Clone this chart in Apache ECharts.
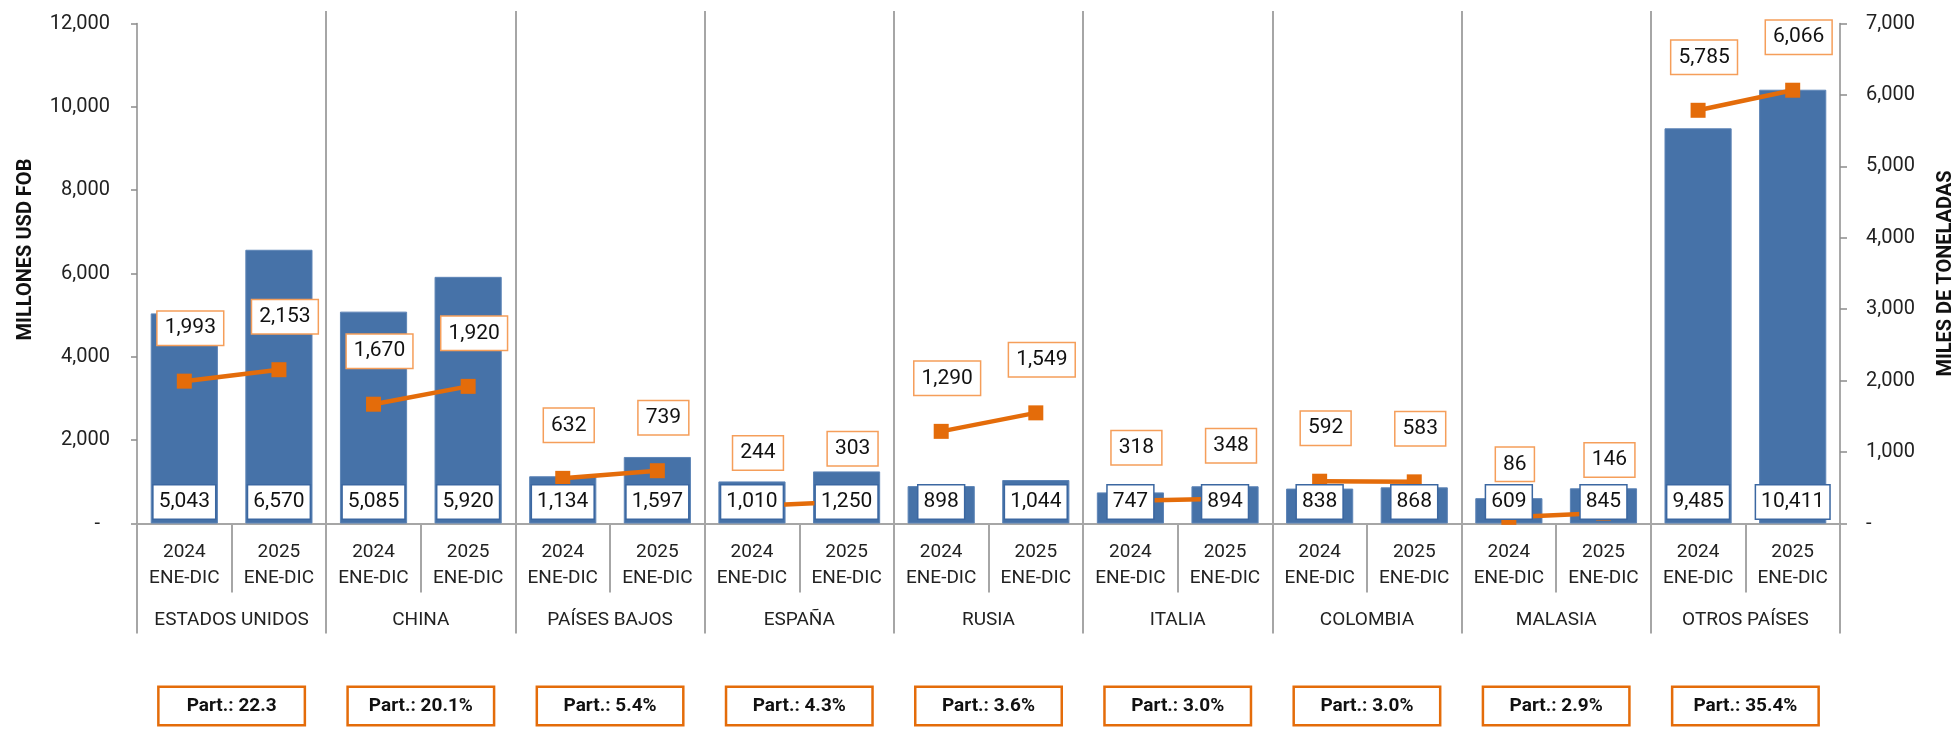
<!DOCTYPE html>
<html>
<head>
<meta charset="utf-8">
<script src="https://cdn.jsdelivr.net/npm/echarts@6.0.0/dist/echarts.min.js"></script>
<style>
  html, body { margin: 0; padding: 0; background: #fff; }
  #chart { width: 1959px; height: 729px; }
</style>
</head>
<body>
<div id="chart"></div>
<script>
// datos
const countries = ['ESTADOS UNIDOS', 'CHINA', 'PAÍSES BAJOS', 'ESPAÑA', 'RUSIA', 'ITALIA', 'COLOMBIA', 'MALASIA', 'OTROS PAÍSES']
const periods = ['2024', '2025']
const periodRange = 'ENE-DIC'
// millones USD FOB (barras, eje izq.)
const valueUsd = [5043, 6570, 5085, 5920, 1134, 1597, 1010, 1250, 898, 1044, 747, 894, 838, 868, 609, 845, 9485, 10411]
// miles de toneladas (línea, eje der.)
const tonnage = [1993, 2153, 1670, 1920, 632, 739, 244, 303, 1290, 1549, 318, 348, 592, 583, 86, 146, 5785, 6066]
const partLabels = ['Part.: 22.3', 'Part.: 20.1%', 'Part.: 5.4%', 'Part.: 4.3%', 'Part.: 3.6%', 'Part.: 3.0%', 'Part.: 3.0%', 'Part.: 2.9%', 'Part.: 35.4%']
const leftAxis = { min: 0, max: 12000, interval: 2000 }
const rightAxis = { min: 0, max: 7000, interval: 1000 }

const fmt = v => Number(v).toLocaleString('en-US')
const slots = countries.flatMap(c => periods.map(p => c + '|' + p))

const gray = '#A6A6A6'
const orange = '#E46C0A'
const font = 'Roboto'

const chart = echarts.init(document.getElementById('chart'))

const lineSeries = countries.map((c, i) => ({
  type: 'line',
  name: c,
  xAxisIndex: 0,
  yAxisIndex: 1,
  data: tonnage.map((v, j) => (Math.floor(j / 2) === i ? v : '-')),
  symbol: 'rect',
  symbolSize: 15,
  z: 3,
  lineStyle: { color: orange, width: 4.5 },
  itemStyle: { color: orange },
  label: {
    show: true,
    position: 'top',
    distance: 29,
    offset: [6, 0],
    formatter: p => fmt(p.value),
    fontFamily: font,
    fontSize: 21,
    lineHeight: 21,
    color: '#111',
    backgroundColor: '#fff',
    borderColor: '#F59E5A',
    borderWidth: 1.5,
    padding: [6, 7]
  }
}))

const option = {
  backgroundColor: '#fff',
  animation: false,
  textStyle: { fontFamily: font },
  grid: [
    { left: 137, right: 119, top: 23.5, bottom: 205.5, containLabel: false, outerBoundsMode: 'none' },
    { left: 137, right: 119, top: 11, bottom: 205.5, containLabel: false, outerBoundsMode: 'none' }
  ],
  xAxis: [
    {
      type: 'category',
      gridIndex: 0,
      data: slots,
      axisLine: { lineStyle: { color: gray, width: 2 } },
      axisTick: { show: true, interval: 0, length: 69, lineStyle: { color: gray, width: 2 } },
      axisLabel: {
        interval: 0,
        margin: 15.5,
        fontSize: 19,
        lineHeight: 26,
        color: '#222',
        formatter: v => v.split('|')[1] + '\n' + periodRange
      }
    },
    {
      type: 'category',
      gridIndex: 0,
      data: countries,
      position: 'bottom',
      axisLine: { show: false },
      axisTick: { show: true, interval: 0, length: 110, lineStyle: { color: gray, width: 2 } },
      axisLabel: { interval: 0, margin: 86.5, fontSize: 19, lineHeight: 20, color: '#222' }
    },
    {
      type: 'category',
      gridIndex: 0,
      data: partLabels,
      position: 'bottom',
      axisLine: { show: false },
      axisTick: { show: false },
      axisLabel: {
        interval: 0,
        margin: 164.5,
        fontSize: 19,
        fontWeight: 'bold',
        lineHeight: 20,
        color: '#111',
        backgroundColor: '#fff',
        borderColor: orange,
        borderWidth: 2.5,
        padding: [8, 0],
        width: 144,
        align: 'center'
      }
    },
    {
      type: 'category',
      gridIndex: 1,
      data: countries,
      axisLine: { show: false },
      axisTick: { show: false },
      axisLabel: { show: false },
      splitLine: { show: true, showMinLine: false, showMaxLine: false, lineStyle: { color: gray, width: 2 } }
    }
  ],
  yAxis: [
    {
      type: 'value',
      gridIndex: 0,
      position: 'left',
      ...leftAxis,
      name: 'MILLONES USD FOB',
      nameLocation: 'middle',
      nameRotate: 90,
      nameGap: 101,
      nameMoveOverlap: false,
      nameTextStyle: { fontSize: 20, fontWeight: 'bold', color: '#111', padding: [0, 0, 0, 48] },
      axisLine: { show: true, lineStyle: { color: '#8C8C8C', width: 1.5 } },
      axisTick: { show: true, length: 6, lineStyle: { color: '#8C8C8C', width: 1.5 } },
      axisLabel: { margin: 27, fontSize: 20, color: '#222', formatter: v => (v === 0 ? '-  ' : fmt(v)) },
      splitLine: { show: false }
    },
    {
      type: 'value',
      gridIndex: 0,
      position: 'right',
      ...rightAxis,
      name: 'MILES DE TONELADAS',
      nameLocation: 'middle',
      nameRotate: 90,
      nameGap: 96,
      nameMoveOverlap: false,
      nameTextStyle: { fontSize: 20, fontWeight: 'bold', color: '#111' },
      axisLine: { show: true, lineStyle: { color: '#8C8C8C', width: 1.5 } },
      axisTick: { show: true, length: 7, lineStyle: { color: '#8C8C8C', width: 1.5 } },
      axisLabel: { margin: 26, fontSize: 20, color: '#222', formatter: v => (v === 0 ? '-' : fmt(v)) },
      splitLine: { show: false }
    },
    { type: 'value', gridIndex: 1, show: false }
  ],
  series: [
    {
      type: 'bar',
      name: 'MILLONES USD FOB',
      xAxisIndex: 0,
      yAxisIndex: 0,
      data: valueUsd,
      barWidth: '71%',
      z: 2,
      itemStyle: { color: '#4672A8', borderColor: '#5E85B7', borderWidth: 1 }
    },
    ...lineSeries,
    {
      type: 'bar',
      name: 'etiquetas',
      xAxisIndex: 0,
      yAxisIndex: 0,
      data: valueUsd,
      barWidth: '71%',
      barGap: '-100%',
      z: 5,
      silent: true,
      itemStyle: { color: 'rgba(0,0,0,0)' },
      label: {
        show: true,
        position: 'insideBottom',
        distance: 5,
        formatter: p => fmt(p.value),
        fontFamily: font,
        fontSize: 21,
        lineHeight: 21,
        color: '#111',
        backgroundColor: '#fff',
        borderColor: '#3B67A1',
        borderWidth: 1.5,
        padding: [6, 5]
      }
    }
  ]
}

chart.setOption(option)
window.addEventListener('resize', () => chart.resize())
</script>
</body>
</html>
